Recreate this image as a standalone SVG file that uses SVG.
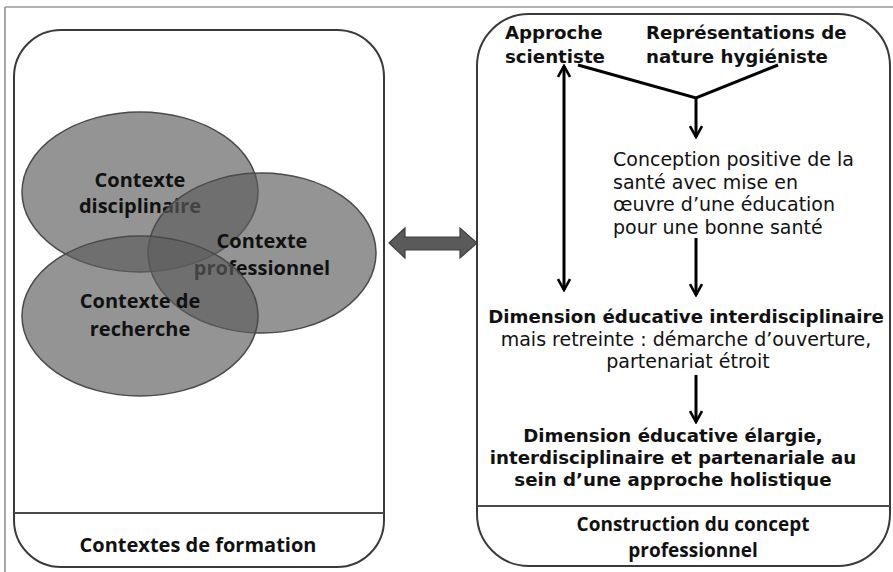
<svg xmlns="http://www.w3.org/2000/svg" width="893" height="572" viewBox="0 0 893 572">
<style>
.panel{fill:#ffffff;stroke:#3a3a3a;stroke-width:2}
.divider{stroke:#4a4a4a;stroke-width:2}
.ell{fill:#5d5d5d;fill-opacity:0.66;stroke:#4a4a4a;stroke-width:1.5}
.cal{font-family:"Open Sans","Liberation Sans",sans-serif;font-weight:bold;font-size:20px;fill:#111;text-anchor:middle}
.cap{font-size:19px}
.hb{font-family:"DejaVu Sans","Liberation Sans",sans-serif;font-weight:bold;font-size:18.2px;fill:#111}
.hr{font-family:"DejaVu Sans","Liberation Sans",sans-serif;font-size:19px;fill:#111}
.mid{text-anchor:middle}
.con{fill:none;stroke:#000;stroke-width:3}
</style>
<defs>
<marker id="ah" viewBox="0 0 14 14" refX="12" refY="7" markerWidth="14" markerHeight="14" markerUnits="userSpaceOnUse" orient="auto-start-reverse">
<path d="M1,1 L12,7 L1,13" fill="none" stroke="#000" stroke-width="2.6"/>
</marker>
</defs>
<rect width="893" height="572" fill="#ffffff"/>
<line x1="5" y1="7" x2="893" y2="7" stroke="#9a9a9a" stroke-width="1.5"/>
<line x1="5" y1="7" x2="5" y2="572" stroke="#8a8a8a" stroke-width="1.5"/>

<g id="panel-left">
<rect class="panel" x="14" y="30" width="370" height="537" rx="47" ry="47"/>
<line class="divider" x1="14" y1="513" x2="384" y2="513"/>
<text class="cal" x="198" y="552">Contextes de formation</text>
</g>

<g id="ctx-disciplinaire">
<ellipse class="ell" cx="140" cy="192" rx="118" ry="80"/>
<text class="cal" x="140" y="187">Contexte</text>
<text class="cal" x="140" y="213">disciplinaire</text>
</g>
<g id="ctx-professionnel">
<ellipse class="ell" cx="262" cy="253" rx="114" ry="80"/>
<text class="cal" x="262" y="248">Contexte</text>
<text class="cal" x="262" y="275">professionnel</text>
</g>
<g id="ctx-recherche">
<ellipse class="ell" cx="140" cy="316" rx="118" ry="80"/>
<text class="cal" x="140" y="308">Contexte de</text>
<text class="cal" x="140" y="336">recherche</text>
</g>

<g id="panel-right">
<rect class="panel" x="477" y="14" width="413" height="552" rx="52" ry="52"/>
<line class="divider" x1="477" y1="506" x2="890" y2="506"/>
<text class="cal cap" x="693" y="531">Construction du concept</text>
<text class="cal cap" x="693" y="557">professionnel</text>
</g>

<g id="approche-scientiste">
<text class="hb" x="505" y="39">Approche</text>
<text class="hb" x="505" y="63">scientiste</text>
</g>
<g id="representations">
<text class="hb" x="646" y="39">Représentations de</text>
<text class="hb" x="646" y="63">nature hygiéniste</text>
</g>
<g id="conception-positive">
<text class="hr" x="613" y="166">Conception positive de la</text>
<text class="hr" x="613" y="189">santé avec mise en</text>
<text class="hr" x="613" y="211">œuvre d’une éducation</text>
<text class="hr" x="613" y="234">pour une bonne santé</text>
</g>
<g id="dimension-restreinte">
<text class="hb mid" x="686" y="323">Dimension éducative interdisciplinaire</text>
<text class="hr mid" x="686" y="346">mais retreinte : démarche d’ouverture,</text>
<text class="hr mid" x="688" y="368">partenariat étroit</text>
</g>
<g id="dimension-elargie">
<text class="hb mid" x="673" y="442">Dimension éducative élargie,</text>
<text class="hb mid" x="673" y="464">interdisciplinaire et partenariale au</text>
<text class="hb mid" x="673" y="486">sein d’une approche holistique</text>
</g>

<g id="connectors">
<path d="M389,243 L405,228 L405,237 L460,237 L460,228 L477,243 L460,258 L460,250 L405,250 L405,258 Z" fill="#5a5a5a" stroke="#3e3e3e" stroke-width="1.2"/>
<polyline class="con" points="578,65 696,98 778,65"/>
<line class="con" x1="696" y1="98" x2="696" y2="137" marker-end="url(#ah)"/>
<line class="con" x1="564" y1="66" x2="564" y2="290" marker-start="url(#ah)" marker-end="url(#ah)"/>
<line class="con" x1="696" y1="238" x2="696" y2="295" marker-end="url(#ah)"/>
<line class="con" x1="696" y1="375" x2="696" y2="422" marker-end="url(#ah)"/>
</g>
</svg>
